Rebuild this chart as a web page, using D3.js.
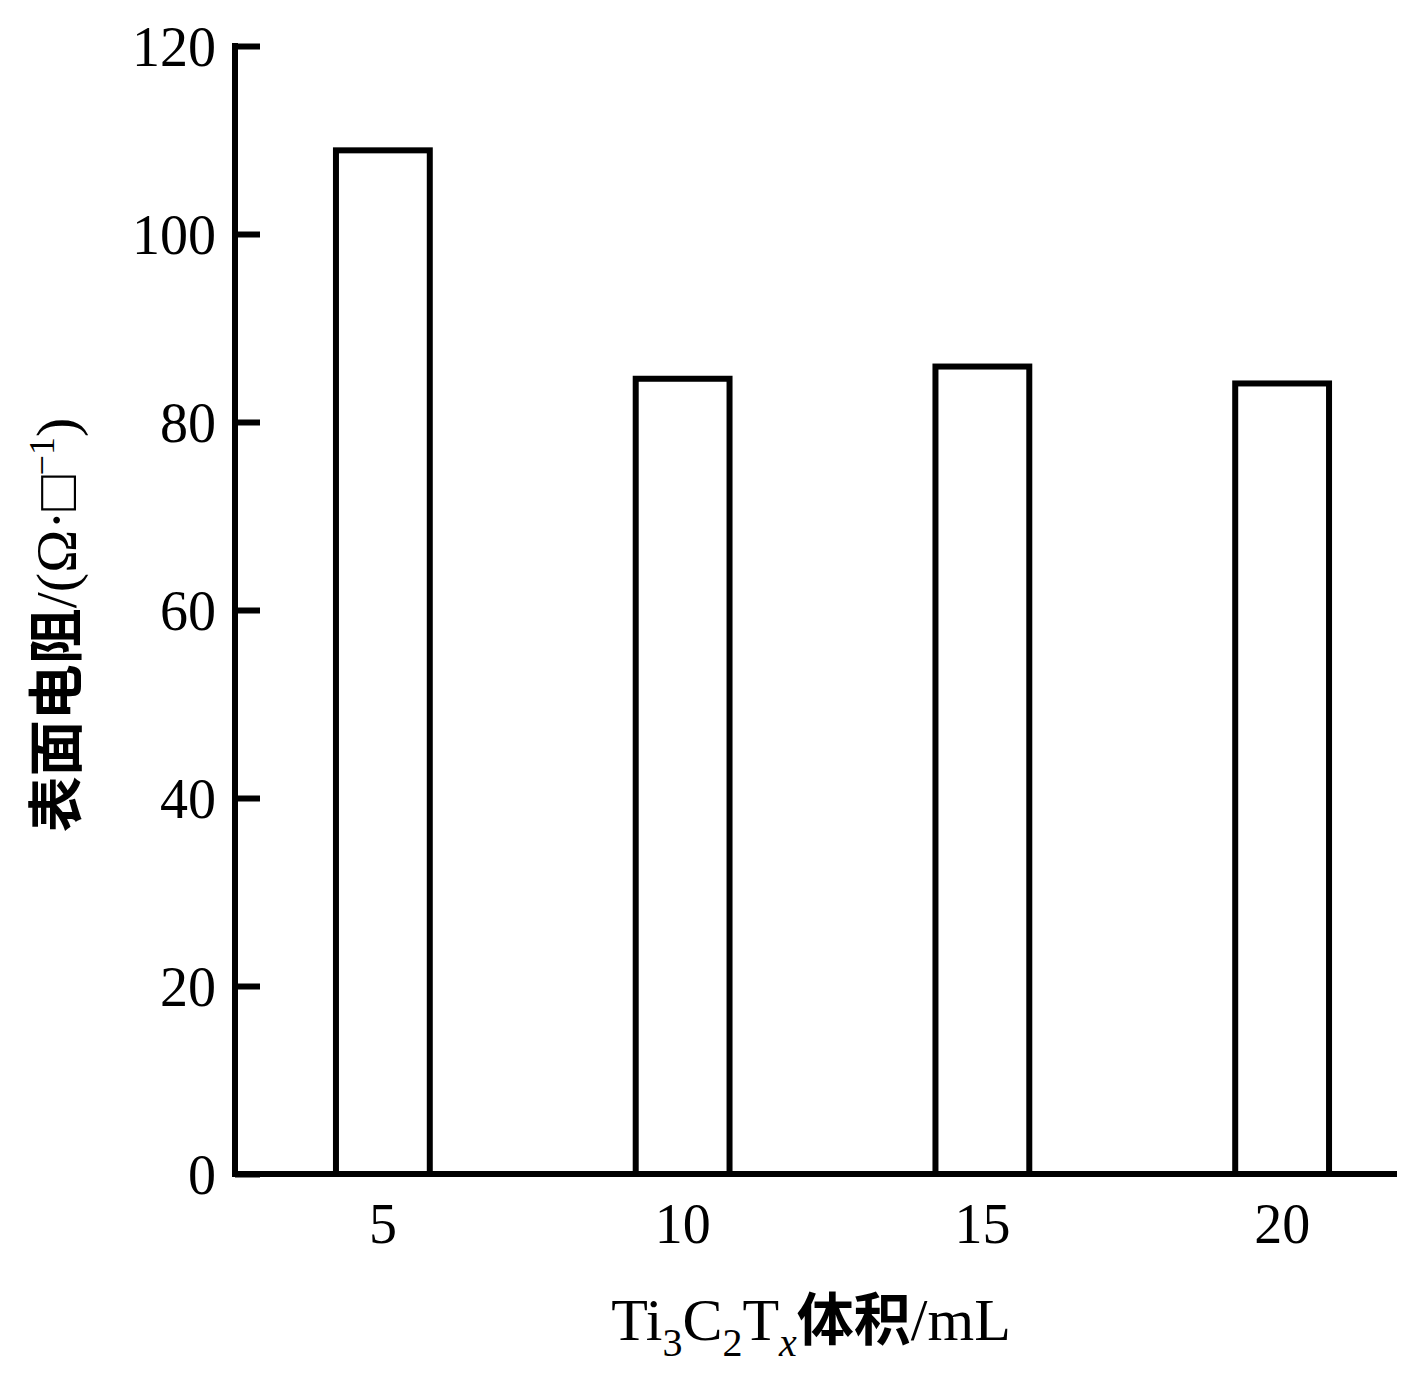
<!DOCTYPE html>
<html>
<head>
<meta charset="utf-8">
<script src="https://cdn.jsdelivr.net/npm/d3@7"></script>
<style>
  html, body { margin: 0; padding: 0; background: #fff; }
  svg { display: block; }
</style>
</head>
<body>
<div id="chart"></div>
<script>
// Ti3C2Tx volume (mL) vs. sheet resistance
const volumes = ["5", "10", "15", "20"];
const resistance = [108.9, 84.6, 85.9, 84.1];
const yTicks = [0, 20, 40, 60, 80, 100, 120];

const width = 1417;
const height = 1375;
const serif = "'Liberation Serif', 'Times New Roman', serif";
const cjk = "'Noto Sans CJK SC', sans-serif";

const svg = d3.select("#chart")
  .append("svg")
  .attr("width", width)
  .attr("height", height);

const x = d3.scaleBand()
  .domain(volumes)
  .range([233, 1432])
  .paddingInner(0.687)
  .paddingOuter(0.3435);

const y = d3.scaleLinear()
  .domain([0, 120])
  .range([1174, 46]);

// bars (open rectangles)
svg.append("g")
  .selectAll("rect")
  .data(volumes)
  .enter()
  .append("rect")
  .attr("x", d => x(d))
  .attr("y", (d, i) => y(resistance[i]))
  .attr("width", x.bandwidth())
  .attr("height", (d, i) => y(0) - y(resistance[i]))
  .attr("fill", "#fff")
  .attr("stroke", "#000")
  .attr("stroke-width", 6);

// y axis, ticks pointing inward
const yAxis = svg.append("g")
  .attr("transform", `translate(235,0)`)
  .call(d3.axisRight(y).tickValues(yTicks).tickSize(25).tickFormat(""));
yAxis.select(".domain").remove();
yAxis.selectAll(".tick line").attr("stroke", "#000").attr("stroke-width", 6);

svg.append("line")
  .attr("x1", 235).attr("x2", 235)
  .attr("y1", y(120) - 3).attr("y2", y(0) + 3)
  .attr("stroke", "#000").attr("stroke-width", 6);

svg.append("g")
  .selectAll("text")
  .data(yTicks)
  .enter()
  .append("text")
  .attr("x", 216)
  .attr("y", d => y(d))
  .attr("dy", "0.35em")
  .attr("text-anchor", "end")
  .attr("font-family", serif)
  .attr("font-size", 56)
  .text(d => d);

// x axis
svg.append("line")
  .attr("x1", 232).attr("x2", 1397)
  .attr("y1", y(0)).attr("y2", y(0))
  .attr("stroke", "#000").attr("stroke-width", 6);

svg.append("g")
  .selectAll("text")
  .data(volumes)
  .enter()
  .append("text")
  .attr("x", d => x(d) + x.bandwidth() / 2)
  .attr("y", 1243)
  .attr("text-anchor", "middle")
  .attr("font-family", serif)
  .attr("font-size", 56)
  .text(d => d);

// x axis title
const xt = svg.append("text")
  .attr("x", 811)
  .attr("y", 1340)
  .attr("text-anchor", "middle")
  .attr("font-family", serif)
  .attr("font-size", 60);
xt.append("tspan").text("Ti");
xt.append("tspan").attr("font-size", 40).attr("dy", 16).text("3");
xt.append("tspan").attr("dy", -16).text("C");
xt.append("tspan").attr("font-size", 40).attr("dy", 16).text("2");
xt.append("tspan").attr("dy", -16).text("T");
xt.append("tspan").attr("font-size", 40).attr("font-style", "italic").attr("dy", 16).text("x");
xt.append("tspan").attr("dy", -16).attr("font-family", cjk).attr("font-weight", 700).attr("font-size", 57).text("体积");
xt.append("tspan").text("/mL");

// y axis title
const yt = svg.append("text")
  .attr("transform", "translate(76,625) rotate(-90)")
  .attr("text-anchor", "middle")
  .attr("font-family", serif)
  .attr("font-size", 58);
yt.append("tspan").attr("font-family", cjk).attr("font-weight", 700).attr("font-size", 56).text("表面电阻");
yt.append("tspan").text("/(Ω·□");
yt.append("tspan").attr("font-size", 36).attr("dy", -22).text("−1");
yt.append("tspan").attr("dy", 22).text(")");
</script>
</body>
</html>
